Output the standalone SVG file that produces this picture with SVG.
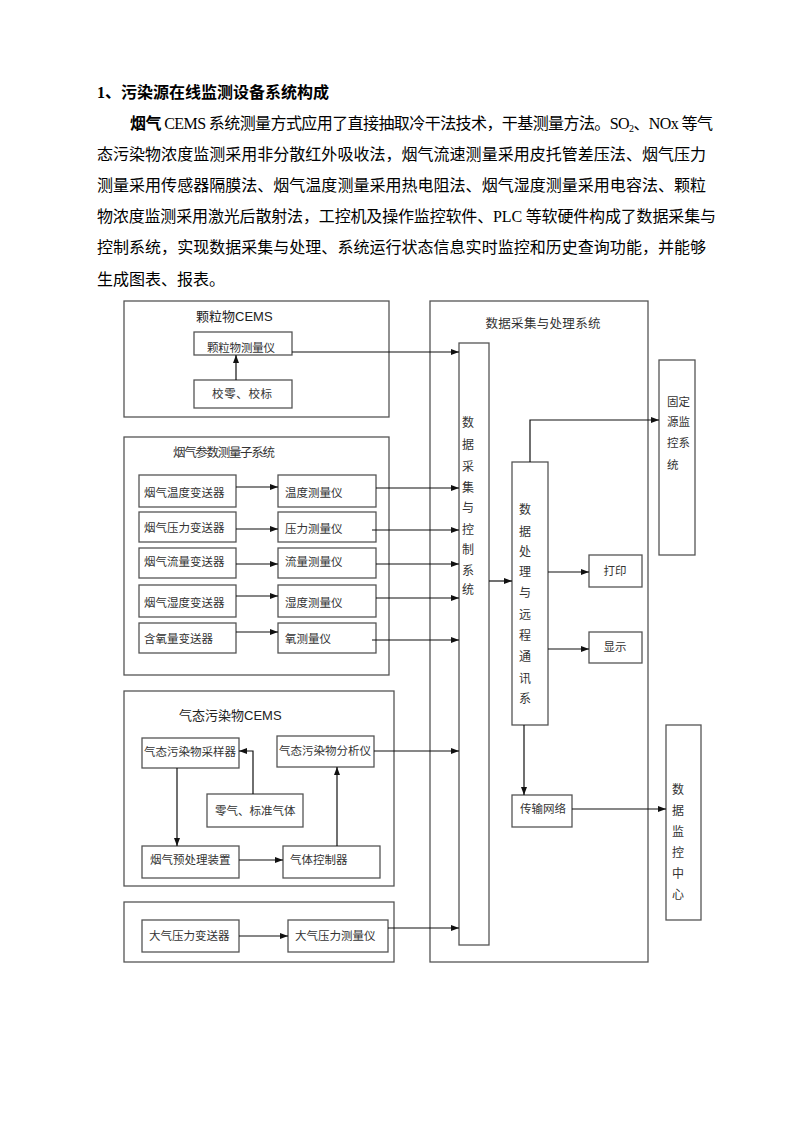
<svg xmlns="http://www.w3.org/2000/svg" width="800" height="1132" viewBox="0 0 800 1132">
<defs>
<marker id="ah" viewBox="0 0 8 6" refX="8" refY="3" markerWidth="8" markerHeight="6" markerUnits="userSpaceOnUse" orient="auto">
<path d="M0,0 L8,3 L0,6 z" fill="#111"/>
</marker>
<style>
.para{font-family:"Liberation Serif","Noto Sans CJK SC",serif;font-size:16px;fill:#000}
.bx{fill:#fff;stroke:#555;stroke-width:1.3}
.ln{fill:none;stroke:#111;stroke-width:1.2}
.ar{fill:none;stroke:#111;stroke-width:1.2;marker-end:url(#ah)}
.lb{font-family:"Liberation Serif","Noto Sans CJK SC",serif;font-size:11.5px;fill:#333}
.vt{font-family:"Liberation Serif","Noto Sans CJK SC",serif;font-size:12px;fill:#333;text-anchor:middle}
.ti{font-family:"Liberation Sans","Noto Sans CJK SC",sans-serif;font-size:13px;fill:#222}
.ts{font-family:"Liberation Serif","Noto Sans CJK SC",serif;font-size:12.5px;fill:#333}
</style>
</defs>
<rect width="800" height="1132" fill="#fff"/>

<g id="heading">
<text x="97" y="98" class="para" font-weight="bold">1、污染源在线监测设备系统构成</text>
</g>
<g id="paragraph">
<text x="130" y="129" class="para" textLength="583" lengthAdjust="spacing"><tspan font-weight="bold">烟气</tspan> CEMS 系统测量方式应用了直接抽取冷干法技术，干基测量方法。SO<tspan font-size="10px" dy="3">2</tspan><tspan dy="-3">、NOx 等气</tspan></text>
<text x="97" y="160" class="para" textLength="609" lengthAdjust="spacing">态污染物浓度监测采用非分散红外吸收法，烟气流速测量采用皮托管差压法、烟气压力</text>
<text x="97" y="191" class="para" textLength="609" lengthAdjust="spacing">测量采用传感器隔膜法、烟气温度测量采用热电阻法、烟气湿度测量采用电容法、颗粒</text>
<text x="97" y="222" class="para" textLength="619" lengthAdjust="spacing">物浓度监测采用激光后散射法，工控机及操作监控软件、PLC 等软硬件构成了数据采集与</text>
<text x="97" y="253" class="para" textLength="609" lengthAdjust="spacing">控制系统，实现数据采集与处理、系统运行状态信息实时监控和历史查询功能，并能够</text>
<text x="97" y="285" class="para">生成图表、报表。</text>
</g>

<!-- Particulate CEMS -->
<g id="particulate-cems">
<rect class="bx" x="124" y="301" width="265" height="116"/>
<text class="ti" x="196" y="321">颗粒物CEMS</text>
</g>
<g id="particulate-meter">
<rect class="bx" x="194" y="332" width="98" height="23"/>
<text class="lb" x="207" y="352" textLength="68">颗粒物测量仪</text>
</g>
<g id="zero-cal">
<rect class="bx" x="194" y="380" width="98" height="28"/>
<text class="lb" x="212" y="398" textLength="60">校零、校标</text>
</g>

<!-- Flue gas parameter subsystem -->
<g id="flue-param-system">
<rect class="bx" x="124" y="437" width="265" height="238"/>
<text class="ts" x="173" y="457" textLength="102">烟气参数测量子系统</text>
</g>
<g id="temp-tx"><rect class="bx" x="139" y="475" width="97" height="32"/><text class="lb" x="144" y="497">烟气温度变送器</text></g>
<g id="press-tx"><rect class="bx" x="139" y="512" width="97" height="30"/><text class="lb" x="144" y="532">烟气压力变送器</text></g>
<g id="flow-tx"><rect class="bx" x="139" y="548" width="97" height="30"/><text class="lb" x="144" y="566">烟气流量变送器</text></g>
<g id="hum-tx"><rect class="bx" x="139" y="585" width="97" height="32"/><text class="lb" x="144" y="607">烟气湿度变送器</text></g>
<g id="o2-tx"><rect class="bx" x="139" y="623" width="97" height="30"/><text class="lb" x="144" y="643">含氧量变送器</text></g>
<g id="temp-m"><rect class="bx" x="278" y="475" width="98" height="32"/><text class="lb" x="285" y="497">温度测量仪</text></g>
<g id="press-m"><rect class="bx" x="278" y="512" width="98" height="30"/><text class="lb" x="285" y="533">压力测量仪</text></g>
<g id="flow-m"><rect class="bx" x="278" y="548" width="98" height="30"/><text class="lb" x="285" y="566">流量测量仪</text></g>
<g id="hum-m"><rect class="bx" x="278" y="585" width="98" height="32"/><text class="lb" x="285" y="607">湿度测量仪</text></g>
<g id="o2-m"><rect class="bx" x="278" y="623" width="98" height="30"/><text class="lb" x="285" y="643">氧测量仪</text></g>

<!-- Gaseous pollutant CEMS -->
<g id="gas-cems">
<rect class="bx" x="124" y="691" width="270" height="195"/>
<text class="ti" x="179" y="720">气态污染物CEMS</text>
</g>
<g id="gas-sampler"><rect class="bx" x="142" y="738" width="97" height="30"/><text class="lb" x="144" y="756" textLength="92">气态污染物采样器</text></g>
<g id="gas-analyzer"><rect class="bx" x="277" y="736" width="97" height="31"/><text class="lb" x="279" y="755" textLength="92">气态污染物分析仪</text></g>
<g id="zero-gas"><rect class="bx" x="207" y="794" width="96" height="33"/><text class="lb" x="215" y="815">零气、标准气体</text></g>
<g id="pretreat"><rect class="bx" x="142" y="846" width="97" height="32"/><text class="lb" x="150" y="864">烟气预处理装置</text></g>
<g id="gas-ctrl"><rect class="bx" x="283" y="846" width="97" height="32"/><text class="lb" x="290" y="864">气体控制器</text></g>

<!-- Atmospheric pressure -->
<g id="atm-system"><rect class="bx" x="124" y="902" width="270" height="60"/></g>
<g id="atm-tx"><rect class="bx" x="142" y="920" width="97" height="32"/><text class="lb" x="149" y="940">大气压力变送器</text></g>
<g id="atm-m"><rect class="bx" x="288" y="920" width="100" height="32"/><text class="lb" x="295" y="940">大气压力测量仪</text></g>

<!-- Data acquisition & processing -->
<g id="daq-system">
<rect class="bx" x="430" y="301" width="218" height="661"/>
<text class="ts" x="543" y="328" text-anchor="middle" textLength="115">数据采集与处理系统</text>
</g>
<g id="daq-control">
<rect class="bx" x="459" y="343" width="30" height="602"/>
<text class="vt" x="468" y="427">数</text><text class="vt" x="468" y="449">据</text><text class="vt" x="468" y="471">采</text><text class="vt" x="468" y="492">集</text><text class="vt" x="468" y="512">与</text><text class="vt" x="468" y="534">控</text><text class="vt" x="468" y="554">制</text><text class="vt" x="468" y="575">系</text><text class="vt" x="468" y="594">统</text>
</g>
<g id="processing">
<rect class="bx" x="512" y="462" width="36" height="263"/>
<text class="vt" x="525" y="514">数</text><text class="vt" x="525" y="536">据</text><text class="vt" x="525" y="556">处</text><text class="vt" x="525" y="576">理</text><text class="vt" x="525" y="597">与</text><text class="vt" x="525" y="619">远</text><text class="vt" x="525" y="640">程</text><text class="vt" x="525" y="661">通</text><text class="vt" x="525" y="683">讯</text><text class="vt" x="525" y="703">系</text>
</g>
<g id="print"><rect class="bx" x="589" y="555" width="53" height="32"/><text class="lb" x="615" y="575" text-anchor="middle">打印</text></g>
<g id="display"><rect class="bx" x="589" y="632" width="53" height="31"/><text class="lb" x="615" y="651" text-anchor="middle">显示</text></g>
<g id="network"><rect class="bx" x="512" y="795" width="60" height="32"/><text class="lb" x="543" y="813" text-anchor="middle">传输网络</text></g>
<g id="fixed-source">
<rect class="bx" x="659" y="360" width="36" height="195"/>
<text class="lb" x="667" y="406" font-size="11px">固定</text><text class="lb" x="667" y="426" font-size="11px">源监</text><text class="lb" x="667" y="447" font-size="11px">控系</text><text class="lb" x="667" y="469" font-size="11px">统</text>
</g>
<g id="monitor-center">
<rect class="bx" x="666" y="725" width="35" height="195"/>
<text class="vt" x="678" y="794">数</text><text class="vt" x="678" y="815">据</text><text class="vt" x="678" y="836">监</text><text class="vt" x="678" y="857">控</text><text class="vt" x="678" y="878">中</text><text class="vt" x="678" y="899">心</text>
</g>

<g id="connectors">
<path class="ar" d="M236,380 V355"/>
<path class="ar" d="M292,352 H459"/>
<path class="ar" d="M236,487 H278"/>
<path class="ar" d="M236,529 H278"/>
<path class="ar" d="M236,564 H278"/>
<path class="ar" d="M236,596 H278"/>
<path class="ar" d="M236,632 H278"/>
<path class="ar" d="M376,488 H459"/>
<path class="ar" d="M372,530 H459"/>
<path class="ar" d="M376,564 H459"/>
<path class="ar" d="M376,598 H459"/>
<path class="ar" d="M372,640 H459"/>
<path class="ar" d="M253,794 V751 H239"/>
<path class="ar" d="M177,768 V846"/>
<path class="ar" d="M239,860 H283"/>
<path class="ar" d="M337,846 V767"/>
<path class="ar" d="M374,751 H459"/>
<path class="ar" d="M239,936 H288"/>
<path class="ar" d="M388,928 H459"/>
<path class="ar" d="M489,581 H512"/>
<path class="ar" d="M530,462 V420 H659"/>
<path class="ar" d="M548,572 H589"/>
<path class="ar" d="M548,649 H589"/>
<path class="ar" d="M524,725 V795"/>
<path class="ar" d="M572,809 H666"/>
</g>
</svg>
